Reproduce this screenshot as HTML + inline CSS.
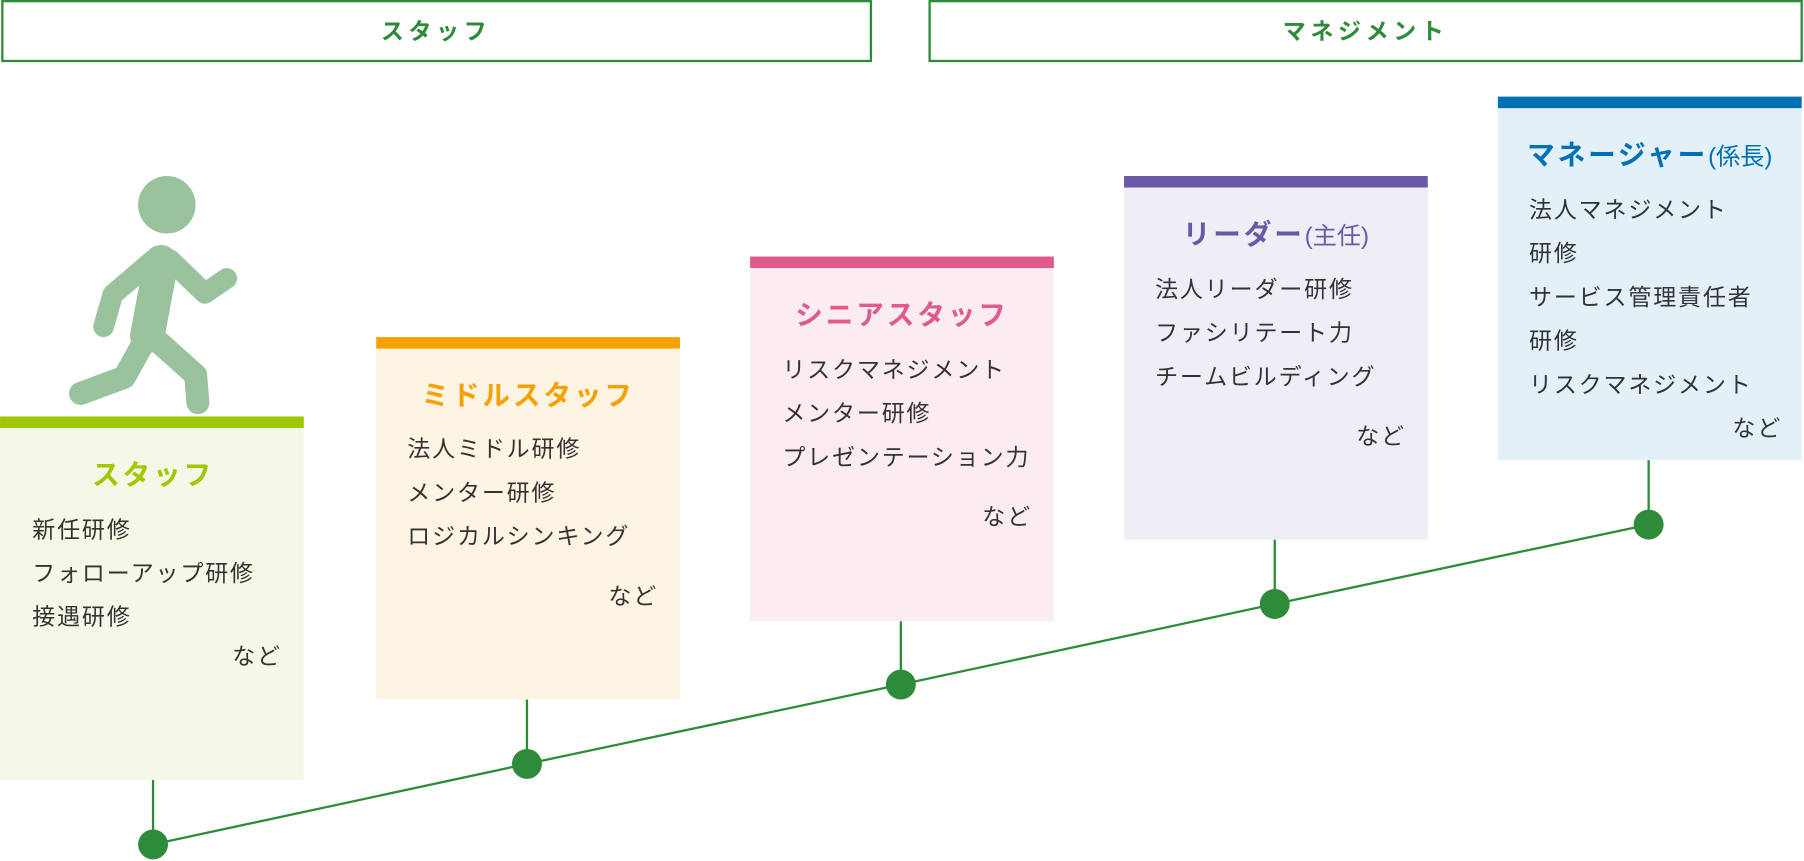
<!DOCTYPE html>
<html><head><meta charset="utf-8"><style>
html,body{margin:0;padding:0;background:#fff;}
svg{display:block;font-family:"Liberation Sans","Noto Sans CJK JP",sans-serif;}
.t{fill:#333;font-size:20px;letter-spacing:1.6px;}
.h{font-weight:bold;font-size:24px;text-anchor:middle;letter-spacing:2.5px;}
</style></head><body>
<svg width="1804" height="861" viewBox="0 0 1568 748.4" xmlns="http://www.w3.org/2000/svg">
<rect x="2" y="1" width="755" height="52" fill="#fff" stroke="#2e8b3a" stroke-width="2"/>
<rect x="808" y="1" width="758" height="52" fill="#fff" stroke="#2e8b3a" stroke-width="2"/>
<text x="379" y="34" fill="#2e8b3a" font-size="20" font-weight="bold" text-anchor="middle" letter-spacing="4">スタッフ</text>
<text x="1187" y="34" fill="#2e8b3a" font-size="20" font-weight="bold" text-anchor="middle" letter-spacing="4">マネジメント</text>

<g fill="#98c39d" stroke="#98c39d" stroke-linecap="round" stroke-linejoin="round">
<ellipse cx="145" cy="178" rx="25" ry="25" stroke="none"/>
<path d="M140 228 L128 292" stroke-width="30" fill="none"/>
<path d="M128 292 L108 328 L70 342" stroke-width="20" fill="none"/>
<path d="M132 292 L170 326 L172 350" stroke-width="20" fill="none"/>
<path d="M133 226 L98 256 L90 284" stroke-width="18" fill="none"/>
<path d="M148 226 L178 255 L197 242" stroke-width="18" fill="none"/>
</g>

<g stroke="#2e8b3a" stroke-width="2" fill="none">
<polyline points="133,734 458,664 783,595 1108,525 1433,456"/>
<line x1="133" y1="678" x2="133" y2="734"/>
<line x1="458" y1="608" x2="458" y2="664"/>
<line x1="783" y1="540" x2="783" y2="595"/>
<line x1="1108" y1="469" x2="1108" y2="525"/>
<line x1="1433" y1="400" x2="1433" y2="456"/>
</g>
<g fill="#2e8b3a">
<circle cx="133" cy="734" r="13"/><circle cx="458" cy="664" r="13"/><circle cx="783" cy="595" r="13"/><circle cx="1108" cy="525" r="13"/><circle cx="1433" cy="456" r="13"/>
</g>

<rect x="0" y="362" width="264" height="316" fill="#f5f8e6"/>
<rect x="0" y="362" width="264" height="10" fill="#a0c800"/>
<text x="133" y="421" class="h" fill="#a0c800">スタッフ</text>
<text class="t" x="28" y="467">新任研修</text>
<text class="t" x="28" y="505">フォローアップ研修</text>
<text class="t" x="28" y="543">接遇研修</text>
<text class="t" x="245" y="577" text-anchor="end">など</text>

<rect x="327" y="293" width="264" height="315" fill="#fdf4e4"/>
<rect x="327" y="293" width="264" height="10" fill="#f7a100"/>
<text x="459" y="352" class="h" fill="#f7a100">ミドルスタッフ</text>
<text class="t" x="354" y="397">法人ミドル研修</text>
<text class="t" x="354" y="435">メンター研修</text>
<text class="t" x="354" y="473">ロジカルシンキング</text>
<text class="t" x="572" y="525" text-anchor="end">など</text>

<rect x="652" y="223" width="264" height="317" fill="#fbecf2"/>
<rect x="652" y="223" width="264" height="10" fill="#e05a8e"/>
<text x="784" y="282" class="h" fill="#e05a8e">シニアスタッフ</text>
<text class="t" x="680" y="328">リスクマネジメント</text>
<text class="t" x="680" y="366">メンター研修</text>
<text class="t" x="680" y="404">プレゼンテーション力</text>
<text class="t" x="897" y="456" text-anchor="end">など</text>

<rect x="977" y="153" width="264" height="316" fill="#efeef7"/>
<rect x="977" y="153" width="264" height="10" fill="#6a5aa5"/>
<text x="1109" y="212" class="h" fill="#6a5aa5">リーダー<tspan font-weight="normal" font-size="21" letter-spacing="0">(主任)</tspan></text>
<text class="t" x="1004" y="258">法人リーダー研修</text>
<text class="t" x="1004" y="296">ファシリテート力</text>
<text class="t" x="1004" y="334">チームビルディング</text>
<text class="t" x="1222" y="386" text-anchor="end">など</text>

<rect x="1302" y="84" width="264" height="316" fill="#e3f0f8"/>
<rect x="1302" y="84" width="264" height="10" fill="#0070b5"/>
<text x="1434" y="143" class="h" fill="#0070b5">マネージャー<tspan font-weight="normal" font-size="21" letter-spacing="0">(係長)</tspan></text>
<text class="t" x="1329" y="189">法人マネジメント</text>
<text class="t" x="1329" y="227">研修</text>
<text class="t" x="1329" y="265">サービス管理責任者</text>
<text class="t" x="1329" y="303">研修</text>
<text class="t" x="1329" y="341">リスクマネジメント</text>
<text class="t" x="1549" y="379" text-anchor="end">など</text>
</svg>
</body></html>
